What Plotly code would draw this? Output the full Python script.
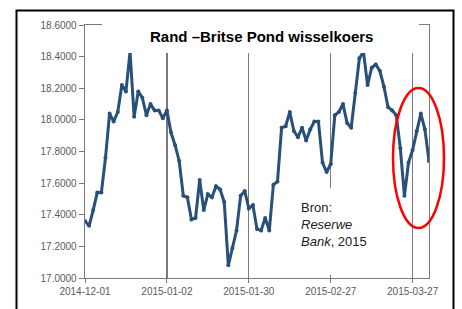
import pandas as pd
import plotly.graph_objects as go

# Trading days (SA business days)
holidays = ["2014-12-16", "2014-12-25", "2014-12-26", "2015-01-01"]
dates = [d.strftime("%Y-%m-%d") for d in pd.bdate_range("2014-12-01", periods=85, freq="C", holidays=holidays)]

rates = [17.36, 17.33, 17.43, 17.54, 17.54, 17.76, 18.04, 17.99, 18.05, 18.22,
         18.18, 18.43, 18.02, 18.18, 18.14, 18.03, 18.10, 18.06, 18.06, 18.01,
         18.06, 17.92, 17.84, 17.74, 17.52, 17.51, 17.37, 17.38, 17.62, 17.43,
         17.53, 17.51, 17.58, 17.56, 17.48, 17.08, 17.19, 17.30, 17.52, 17.55,
         17.44, 17.46, 17.31, 17.30, 17.38, 17.30, 17.59, 17.61, 17.95, 17.96,
         18.05, 17.93, 17.89, 17.95, 17.87, 17.94, 17.99, 17.99, 17.73, 17.67,
         17.72, 18.03, 18.05, 18.10, 17.98, 17.95, 18.17, 18.39, 18.43, 18.22,
         18.33, 18.35, 18.31, 18.21, 18.08, 18.06, 18.03, 17.82, 17.52, 17.73,
         17.81, 17.93, 18.04, 17.94, 17.74]

tick_dates = ["2014-12-01", "2015-01-02", "2015-01-30", "2015-02-27", "2015-03-27"]
title_text = "Rand –Britse Pond wisselkoers"
source_text = "Bron:<br><i>Reserwe</i><br><i>Bank</i>, 2015"

fig = go.Figure()
fig.add_trace(go.Scatter(
    x=dates, y=rates, mode="lines+markers",
    line=dict(color="#28507a", width=3),
    marker=dict(color="#28507a", size=4),
    showlegend=False, hoverinfo="skip",
))

axis_col = "#7a7a7a"
fig.update_layout(
    width=462, height=309,
    margin=dict(l=85, r=33, t=25, b=31),
    paper_bgcolor="white", plot_bgcolor="white",
    xaxis=dict(
        type="category", range=[0, 84],
        tickvals=tick_dates, ticktext=tick_dates,
        showgrid=True, gridcolor=axis_col, gridwidth=1.3,
        showline=True, linecolor=axis_col, linewidth=1.3, mirror=True,
        ticks="outside", ticklen=4, tickcolor=axis_col,
        tickfont=dict(family="Liberation Sans", size=10, color="#5a5a5a"),
        zeroline=False,
    ),
    yaxis=dict(
        range=[17.0, 18.6], dtick=0.2, tick0=17.0, tickformat=".4f",
        showgrid=False,
        showline=True, linecolor=axis_col, linewidth=1.3, mirror=True,
        ticks="outside", ticklen=5, tickcolor=axis_col,
        tickfont=dict(family="Liberation Sans", size=10, color="#5a5a5a"),
        zeroline=False,
    ),
)

def px_x(p):
    return (p - 85) / 344.0

def px_y(p):
    return (278 - p) / 253.0

shapes = [
    # white title box (covers top frame & gridlines)
    dict(type="rect", xref="paper", yref="paper", layer="above",
         x0=px_x(102), x1=px_x(419), y0=px_y(53), y1=px_y(18),
         fillcolor="white", line=dict(width=0)),
    # white source box
    dict(type="rect", xref="paper", yref="paper", layer="above",
         x0=px_x(295), x1=px_x(380), y0=px_y(275), y1=px_y(188),
         fillcolor="white", line=dict(width=0)),
    # red ellipse
    dict(type="circle", xref="paper", yref="paper", layer="above",
         x0=px_x(393), x1=px_x(444), y0=px_y(228), y1=px_y(88),
         line=dict(color="#ff0000", width=2.5)),
    # outer black frame
    dict(type="rect", xref="paper", yref="paper", layer="above",
         x0=px_x(16.5), x1=px_x(453.5), y0=px_y(330), y1=px_y(10.5),
         line=dict(color="black", width=2)),
]
fig.update_layout(shapes=shapes)

fig.add_annotation(
    xref="paper", yref="paper", x=px_x(261), y=px_y(37),
    text="<b>" + title_text + "</b>", showarrow=False,
    xanchor="center", yanchor="middle",
    font=dict(family="Liberation Sans", size=15, color="black"),
)
fig.add_annotation(
    xref="paper", yref="paper", x=px_x(299), y=px_y(198),
    text=source_text, showarrow=False, align="left",
    xanchor="left", yanchor="top",
    font=dict(family="Liberation Sans", size=13, color="#222222"),
)

fig.write_html(
    "out.html",
    config={"displayModeBar": False, "staticPlot": True},
    post_script="document.body.style.margin='0px';document.body.style.overflow='hidden';",
)
